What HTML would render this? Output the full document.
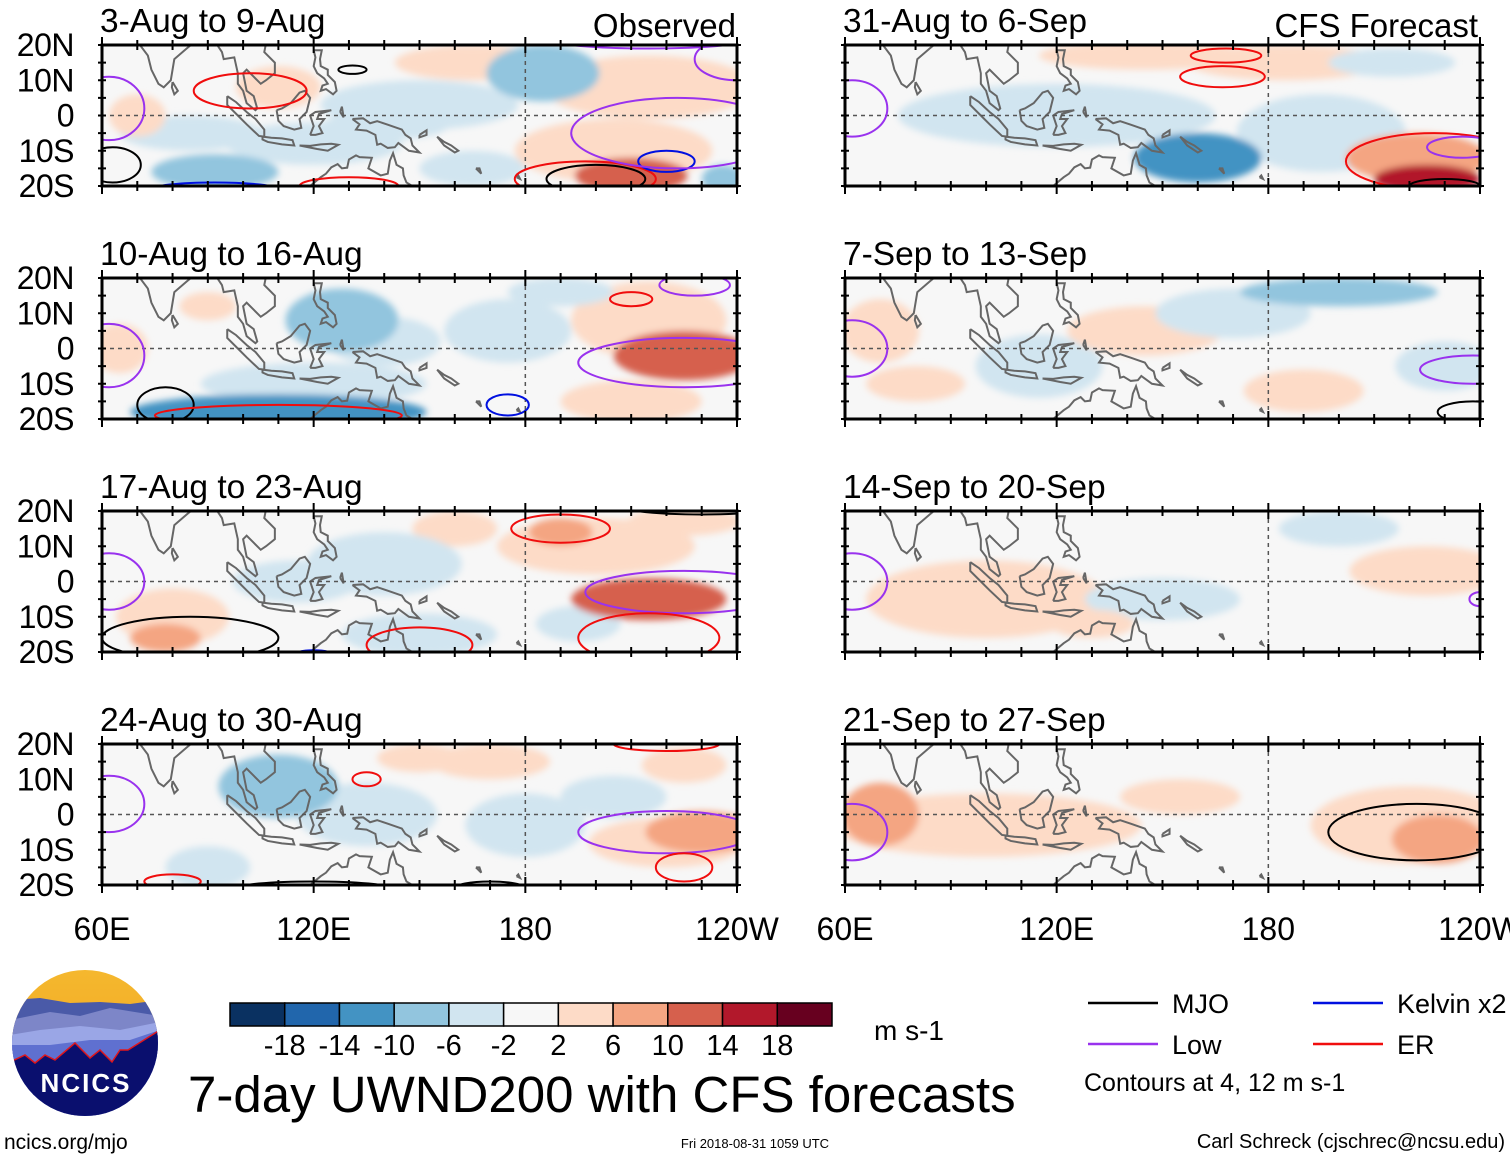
<!DOCTYPE html>
<html><head><meta charset="utf-8"><style>
body{margin:0;background:#fff;width:1510px;height:1158px;overflow:hidden;font-family:"Liberation Sans",sans-serif}
svg{position:absolute;left:0;top:0}
</style></head><body>
<svg id="fig" width="1510" height="1158" xmlns="http://www.w3.org/2000/svg">
<defs><filter id="bl" x="-50%" y="-50%" width="200%" height="200%"><feGaussianBlur stdDeviation="3.5"/></filter>
<linearGradient id="sky" x1="0" y1="0" x2="0" y2="1"><stop offset="0" stop-color="#f5b82e"/><stop offset="1" stop-color="#f0a020"/></linearGradient>
<clipPath id="logoclip"><circle cx="85" cy="1043" r="73"/></clipPath></defs>
</svg>
<script>
const NS='http://www.w3.org/2000/svg';
const svg=document.getElementById('fig');
const panelTitles=['3-Aug to 9-Aug','10-Aug to 16-Aug','17-Aug to 23-Aug','24-Aug to 30-Aug','31-Aug to 6-Sep','7-Sep to 13-Sep','14-Sep to 20-Sep','21-Sep to 27-Sep'];
const latTicks=[20,10,0,-10,-20];
const latLabels=['20N','10N','0','10S','20S'];
const lonTicks=[60,120,180,240];
const lonLabels=['60E','120E','180','120W'];
const cbarValues=[-18,-14,-10,-6,-2,2,6,10,14,18];
const cbarColors=['#0a3161','#2166ac','#4393c3','#92c5de','#d1e5f0','#f7f7f7','#fddbc7','#f4a582','#d6604d','#b2182b','#67001f'];
// anomaly blobs: [lon, lat, halfWidthDeg, halfHeightDeg, value m/s]
const blobs=[
[[150,3,28,7,-4],[120,-8,25,6,-4],[185,12,16,8,-8],[92,-16,18,5,-8],[140,-3,18,4,-6],[165,-15,15,5,-4],[210,-17,16,5,12],[205,-10,28,9,5],[215,8,30,9,3],[110,8,12,6,3],[165,15,22,5,3],[236,-18,6,4,-8],[70,0,8,6,4],[85,-5,20,5,-3]],
[[128,8,16,9,-10],[140,2,16,7,-6],[110,-18,42,5,-12],[120,-10,32,6,-5],[175,5,18,9,-4],[225,-2,20,7,12],[215,8,22,11,4],[65,0,8,7,5],[210,-15,20,6,3],[90,12,8,4,3],[190,16,15,4,-4]],
[[140,5,22,9,-6],[150,-15,22,6,-6],[195,-12,12,5,-6],[215,-5,22,6,12],[200,10,28,8,4],[78,-16,10,4,8],[80,-10,16,8,3],[160,15,12,5,4],[225,17,16,4,4],[190,14,9,4,6],[115,0,18,6,-3]],
[[110,8,17,9,-10],[135,0,20,9,-5],[180,-3,17,9,-4],[230,-5,16,6,8],[220,-8,22,7,4],[170,15,17,5,5],[150,16,12,4,3],[90,-15,12,6,-3],[225,14,12,5,4],[205,5,15,6,-3]],
[[160,-12,18,7,-12],[120,0,45,9,-5],[225,-18,15,4,16],[222,-12,20,7,8],[145,17,30,4,3],[185,15,28,5,4],[215,15,18,4,-4],[195,-5,24,11,-3]],
[[80,-10,14,5,4],[70,5,11,9,3],[200,16,28,4,-8],[170,10,22,7,-4],[115,-5,18,9,-3],[230,-5,14,7,-3],[145,5,22,7,3],[190,-12,17,6,3]],
[[100,-5,34,11,3],[225,3,22,7,3],[150,-5,22,6,-3],[130,-12,12,4,3],[200,15,17,5,-3]],
[[70,0,11,9,8],[100,-3,44,9,3],[228,-7,13,7,7],[220,-3,28,11,3],[155,5,17,5,3]]
];
// contours: [type, lon, lat, halfWidthDeg, halfHeightDeg]
const contours=[
[['er',102,7,16,5],['er',197,-18,20,5],['mjo',200,-18,14,4],['kelvin',220,-13,8,3],['kelvin',92,-21,18,2],['er',130,-20,14,2.5],['low',62,2,10,9],['low',223,-5,30,10],['low',215,22,30,3],['low',240,16,12,6],['mjo',63,-14,8,5],['mjo',131,13,4,1.2]],
[['mjo',78,-16,8,5],['er',110,-19,35,3],['low',62,-2,10,9],['low',225,-4,30,7],['kelvin',175,-16,6,3],['er',210,14,6,2],['low',228,18,10,3],['low',150,22,20,2]],
[['mjo',85,-16,25,6],['low',62,0,10,8],['low',225,-3,28,6],['er',190,15,14,4],['er',215,-16,20,7],['er',150,-18,15,5],['mjo',230,22,25,3],['low',150,22,20,2],['kelvin',120,-21,6,1.5]],
[['low',62,3,10,8],['low',220,-5,25,6],['er',225,-15,8,4],['mjo',120,-21,22,2],['mjo',170,-21,10,2],['er',220,20,15,2],['er',135,10,4,2],['er',80,-19,8,2]],
[['low',62,2,10,8],['er',167,11,12,3],['er',168,17,10,2],['er',227,-13,25,8],['mjo',230,-20,10,2],['low',235,-9,10,3]],
[['low',62,0,10,8],['low',238,-6,15,4],['mjo',238,-18,10,3]],
[['low',62,0,10,8],['low',240,-5,3,2]],
[['low',62,-5,10,8],['mjo',222,-5,25,8]]
];
const coasts=[
[[68,24],[70,21],[73,17],[74,13],[76,9],[77.5,8],[79.5,10],[80,13],[80.5,16],[84,19],[87,21.5],[90,22]],
[[80,9.5],[81.5,7],[80.5,6],[79.8,8],[80,9.5]],
[[91,23],[92,21],[94,18],[94.5,16],[97.5,16.5],[98.5,12],[98.5,9],[100,7],[101,3.5],[103.5,1.5],[104,2],[103,5.5],[101,7],[100,12],[101,13],[103,11],[105,9],[106.5,10],[109,12],[109,15],[106,18],[106.5,20.5],[108,21.5],[110,21],[112,21.8],[116,22.8],[120,24]],
[[95.5,5.5],[98,3.8],[101,1],[103.5,-1],[106,-4],[106,-6],[104.5,-5.8],[101,-2.5],[98.5,0],[95.5,3],[95.5,5.5]],
[[109.5,1.5],[110,-1.5],[111.5,-3],[114.5,-4],[116.5,-3.5],[116,-1],[118,1],[119,5],[117.5,7],[116,6.5],[113.5,3.5],[111,2],[109.5,1.5]],
[[105.5,-6],[108,-6.3],[111,-6.5],[114,-7],[114.5,-8.5],[111,-8.2],[107,-7.5],[105.5,-6.8],[105.5,-6]],
[[116,-8.5],[119,-8.6],[122,-8.2],[125,-8],[127,-8.3],[124,-10],[121,-9.5],[116,-8.5]],
[[119,-5.5],[120,-3],[119,0],[120.5,1],[125,1.5],[121.5,0.4],[121,-1],[123,-1],[121.5,-3],[122.5,-5],[120.5,-5.5],[119,-5.5]],
[[120,18.5],[122.3,18.5],[121.8,16],[122,14],[124,13],[124,11.5],[126,9.5],[126.5,7],[125.5,6],[123.5,7.5],[122,7],[122.5,8.5],[124,9],[123,10.5],[121,12],[120,14],[120.5,16.5],[120,18.5]],
[[120.2,22],[121,25],[122,25],[121.5,22.5],[120.2,22]],
[[127.5,1],[128.5,-0.5],[128,2.5],[127.5,1]],
[[131,-1],[134,-0.8],[136,-2.2],[138,-1.6],[141,-2.6],[145,-4],[146,-5.5],[147.5,-6.5],[148,-8.5],[150,-10.5],[147,-10],[144,-7.8],[143,-9],[141,-9.2],[139,-8],[138,-8.3],[137.5,-5.5],[135,-4.3],[132,-4],[133,-2.5],[131,-1]],
[[150,-5.5],[152,-4.2],[152,-5.5],[150,-6.2],[150,-5.5]],
[[155,-6],[157,-7.5],[159,-8.5],[161,-10],[160,-10.5],[157,-8.5],[155,-6]],
[[166,-15],[167.5,-16.5],[167,-15],[166,-15]],
[[177.5,-17.5],[178.5,-18],[178,-17],[177.5,-17.5]],
[[113,-21.8],[114,-22],[116,-21],[119,-20],[122,-17.5],[123.5,-16.5],[125,-14.7],[126.8,-13.8],[128,-15],[129.5,-14.8],[130,-12.5],[132,-11.3],[133,-11.8],[136.5,-12],[136,-13.5],[135.5,-15],[139,-17],[141,-16.5],[141.6,-12.8],[142.5,-10.7],[143.5,-14],[145.3,-15],[145.5,-17],[146.3,-19],[148.8,-20.5]]
];
const CW=635,CH=141;
const panelX=[102,845];
const panelY=[45,278,511,744];
function colorFor(v){
  const edges=[-Infinity,-18,-14,-10,-6,-2,2,6,10,14,18];
  let i=0;for(let k=0;k<edges.length;k++) if(v>=edges[k]) i=k;
  return cbarColors[i];
}
const cstroke={mjo:'#000',low:'#9932ee',kelvin:'#0010e0',er:'#f00d0d'};
function mk(tag,attrs,parent){const e=document.createElementNS(NS,tag);for(const k in attrs)e.setAttribute(k,attrs[k]);(parent||svg).appendChild(e);return e;}
for(let p=0;p<8;p++){
  const col=p<4?0:1,row=p%4;
  const x0=panelX[col],y0=panelY[row];
  const X=lon=>x0+(lon-60)*CW/180;
  const Y=lat=>y0+(20-lat)*CH/40;
  const g=mk('g',{});
  
  
  const cp=mk('clipPath',{id:'cp'+p},svg.querySelector('defs'));
  mk('rect',{x:x0,y:y0,width:CW,height:CH},cp);
  mk('rect',{x:x0,y:y0,width:CW,height:CH,fill:'#f7f7f7'},g);
  const inner=mk('g',{'clip-path':'url(#cp'+p+')'},g);
  const bg=mk('g',{filter:'url(#bl)'},inner);
  const sorted=blobs[p].slice().sort((a,b)=>Math.abs(a[4])-Math.abs(b[4]));
  for(const b of sorted){
    const e=mk('ellipse',{cx:X(b[0]),cy:Y(b[1]),rx:b[2]*CW/180,ry:b[3]*CH/40,fill:colorFor(b[4])},bg);
    
    
  }
  for(const c of coasts){
    const pl=mk('polyline',{points:c.map(q=>X(q[0])+','+Y(q[1])).join(' '),fill:'none',stroke:'#666','stroke-width':2},inner);
    
    
  }
  mk('line',{x1:x0,x2:x0+CW,y1:Y(0),y2:Y(0),stroke:'#555','stroke-width':1.5,'stroke-dasharray':'4,4'},inner);
  mk('line',{x1:X(180),x2:X(180),y1:y0,y2:y0+CH,stroke:'#555','stroke-width':1.5,'stroke-dasharray':'4,4'},inner);
  for(const c of contours[p]){
    const e=mk('ellipse',{cx:X(c[1]),cy:Y(c[2]),rx:c[3]*CW/180,ry:c[4]*CH/40,fill:'none',stroke:cstroke[c[0]],'stroke-width':2},inner);
    
    
  }
  const fr=mk('rect',{x:x0,y:y0,width:CW,height:CH,fill:'none',stroke:'#000','stroke-width':3},g);
  
  
  for(let lon=60;lon<=240;lon+=10){const t=(lon%60==0)?8:5;
    mk('line',{x1:X(lon),x2:X(lon),y1:y0-t,y2:y0+t,stroke:'#000','stroke-width':2},g);
    mk('line',{x1:X(lon),x2:X(lon),y1:y0+CH-t,y2:y0+CH+t,stroke:'#000','stroke-width':2},g);}
  for(let lat=-20;lat<=20;lat+=5){
    mk('line',{x1:x0-4,x2:x0+4,y1:Y(lat),y2:Y(lat),stroke:'#000','stroke-width':2},g);
    mk('line',{x1:x0+CW-4,x2:x0+CW+4,y1:Y(lat),y2:Y(lat),stroke:'#000','stroke-width':2},g);}
  const t=mk('text',{x:x0-2,y:y0-13,'font-size':33.5,fill:'#000'},g);t.textContent=panelTitles[p];
  
  
  if(col==0){
    latTicks.forEach((lat,i)=>{const l=mk('text',{x:74,y:Y(lat)+11,'font-size':32,'text-anchor':'end','letter-spacing':'-0.5'},g);l.textContent=latLabels[i];
      
      });
  }
  if(row==3){
    lonTicks.forEach((lon,i)=>{const l=mk('text',{x:X(lon),y:940,'font-size':32,'text-anchor':'middle'},g);l.textContent=lonLabels[i];
      
      });
  }
}
function txt(s,x,y,size,name,anchor,extra){const e=mk('text',Object.assign({x:x,y:y,'font-size':size,'text-anchor':anchor||'start'},extra||{}));e.textContent=s;
  
  return e;}
txt('Observed',736,37,33,'observed-label','end');
txt('CFS Forecast',1478,37,33,'cfs-forecast-label','end');
// colorbar
const cbX=230,cbW=602,cbY=1003,cbH=23,bw=cbW/cbarColors.length;
cbarColors.forEach((c,i)=>{const r=mk('rect',{x:cbX+i*bw,y:cbY,width:bw,height:cbH,fill:c,stroke:'#000','stroke-width':1.5});
  
  });
cbarValues.forEach((v,i)=>txt(String(v),cbX+(i+1)*bw,1055,29,'colorbar-label','middle'));
txt('m s-1',874,1040,28,'units-label');
txt('7-day UWND200 with CFS forecasts',188,1112,51,'figure-title');
// legend
const leg=[['MJO','#000',1088,1003],['Kelvin x2','#0010e0',1313,1003],['Low','#9932ee',1088,1044],['ER','#f00d0d',1313,1044]];
for(const l of leg){const ln=mk('line',{x1:l[2],x2:l[2]+70,y1:l[3],y2:l[3],stroke:l[1],'stroke-width':2.5});
  
  
  txt(l[0],l[2]+84,l[3]+10,27,'legend-entry');}
txt('Contours at 4, 12 m s-1',1084,1091,25,'contour-note');
txt('ncics.org/mjo',4,1149,21,'website-label');
txt('Fri 2018-08-31 1059 UTC',755,1148,13,'timestamp','middle');
txt('Carl Schreck (cjschrec@ncsu.edu)',1505,1148,20,'author-label','end');
// logo
const lg=mk('g',{'clip-path':'url(#logoclip)'});


mk('rect',{x:10,y:968,width:150,height:150,fill:'url(#sky)'},lg);
mk('path',{d:'M10 1000 L40 998 L70 1003 L100 1002 L130 1004 L160 1000 L160 1118 L10 1118Z',fill:'#4a5aa8'},lg);
mk('path',{d:'M10 1020 L50 1012 L80 1016 L110 1008 L160 1016 L160 1118 L10 1118Z',fill:'#7d86c8'},lg);
mk('path',{d:'M10 1035 L40 1030 L80 1026 L120 1030 L160 1022 L160 1118 L10 1118Z',fill:'#9aa6e6'},lg);
mk('path',{d:'M10 1045 L50 1045 L90 1040 L130 1040 L160 1030 L160 1118 L10 1118Z',fill:'#5f70d0'},lg);
mk('path',{d:'M10 1062 L25 1055 L35 1063 L45 1055 L55 1060 L75 1043 L90 1058 L100 1050 L112 1062 L120 1050 L128 1050 L160 1030 L160 1118 L10 1118Z',fill:'#0a0f6e',stroke:'#e0151b','stroke-width':1.5},lg);
const nt=mk('text',{x:86,y:1092,'font-size':26,'font-weight':'bold',fill:'#fff','text-anchor':'middle','letter-spacing':'2'},lg);nt.textContent='NCICS';


</script>
</body></html>
